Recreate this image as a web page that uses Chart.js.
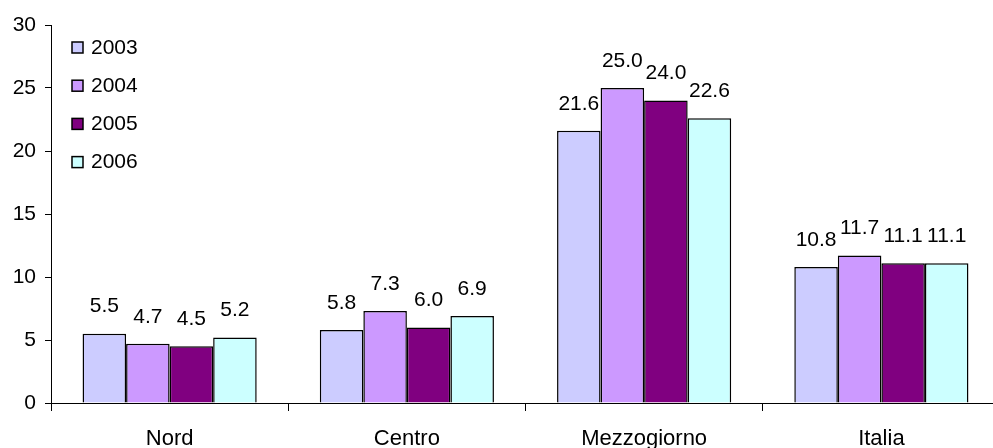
<!DOCTYPE html>
<html>
<head>
<meta charset="utf-8">
<script src="https://cdn.jsdelivr.net/npm/chart.js@4/dist/chart.umd.min.js"></script>
<style>
  html, body { margin: 0; padding: 0; background: #fff; overflow: hidden; }
  #wrap { width: 1000px; height: 470px; position: relative; }
</style>
</head>
<body>
<div id="wrap"><canvas id="c"></canvas></div>
<script>
// Regional values by year
const categories = ['Nord', 'Centro', 'Mezzogiorno', 'Italia'];
const years = ['2003', '2004', '2005', '2006'];
const values2003 = [5.5, 5.8, 21.6, 10.8];
const values2004 = [4.7, 7.3, 25.0, 11.7];
const values2005 = [4.5, 6.0, 24.0, 11.1];
const values2006 = [5.2, 6.9, 22.6, 11.1];
const yTicks = [0, 5, 10, 15, 20, 25, 30];

const colors = ['#CCCCFF', '#CC99FF', '#800080', '#CCFFFF'];
const seriesValues = [values2003, values2004, values2005, values2006];
const FONT = '"Liberation Sans", Arial, sans-serif';

const datasets = years.map((y, i) => ({
  label: y,
  data: seriesValues[i],
  backgroundColor: colors[i],
  borderColor: '#000',
  borderWidth: 1.5,
  borderSkipped: 'bottom',
  categoryPercentage: 0.734,
  barPercentage: 1.0
}));

// Value labels above each bar
const valueLabels = {
  id: 'valueLabels',
  afterDatasetsDraw(chart) {
    const ctx = chart.ctx;
    ctx.save();
    ctx.font = '21px ' + FONT;
    ctx.fillStyle = '#000';
    ctx.textAlign = 'center';
    ctx.textBaseline = 'middle';
    chart.data.datasets.forEach((ds, di) => {
      chart.getDatasetMeta(di).data.forEach((bar, i) => {
        ctx.fillText(ds.data[i].toFixed(1), bar.x, bar.y - 27);
      });
    });
    ctx.restore();
  }
};

// Legend drawn inside the plot area, top-left
const innerLegend = {
  id: 'innerLegend',
  afterDraw(chart) {
    const ctx = chart.ctx;
    ctx.save();
    ctx.font = '21px ' + FONT;
    ctx.textBaseline = 'middle';
    ctx.textAlign = 'left';
    chart.data.datasets.forEach((ds, i) => {
      const cy = 48 + i * 38.2;
      ctx.fillStyle = ds.backgroundColor;
      ctx.fillRect(72, cy - 6, 11, 11);
      ctx.strokeStyle = '#000';
      ctx.lineWidth = 1.5;
      ctx.strokeRect(72, cy - 6, 11, 11);
      ctx.fillStyle = '#000';
      ctx.fillText(ds.label, 91, cy);
    });
    ctx.restore();
  }
};

new Chart(document.getElementById('c'), {
  type: 'bar',
  data: { labels: categories, datasets },
  options: {
    responsive: true,
    maintainAspectRatio: false,
    animation: false,
    layout: { padding: { top: 25, right: 0, bottom: 0, left: 0 } },
    plugins: {
      legend: { display: false },
      tooltip: { enabled: false }
    },
    scales: {
      x: {
        grid: {
          offset: true,
          drawOnChartArea: false,
          drawTicks: true,
          tickLength: 8,
          color: '#000'
        },
        border: { color: '#000', width: 1 },
        ticks: {
          color: '#000',
          font: { size: 22, family: FONT },
          padding: 15,
          maxRotation: 0
        },
        afterFit(scale) { scale.height = 67; }
      },
      y: {
        min: 0,
        max: 30,
        afterBuildTicks(scale) { scale.ticks = yTicks.map(v => ({ value: v })); },
        grid: {
          drawOnChartArea: false,
          drawTicks: true,
          tickLength: 6,
          color: '#000'
        },
        border: { color: '#000', width: 1 },
        ticks: {
          color: '#000',
          font: { size: 21, family: FONT },
          padding: 9
        },
        afterFit(scale) { scale.width = 51; }
      }
    }
  },
  plugins: [valueLabels, innerLegend]
});
</script>
</body>
</html>
